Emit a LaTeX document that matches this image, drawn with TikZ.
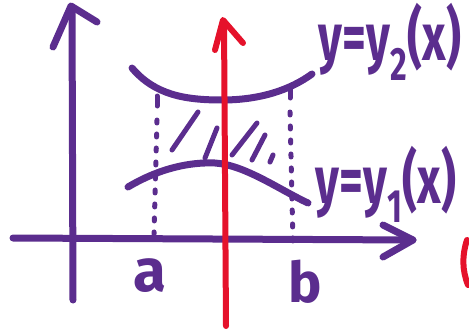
\documentclass[tikz,border=0pt]{standalone}
\usepackage{fontspec}
\setmainfont{Fira Sans}
\usepackage{xcolor}
\definecolor{plum}{HTML}{5B2D8E}
\definecolor{crimson}{HTML}{E5122B}

\begin{document}
\begin{tikzpicture}[x=1pt, y=-1pt, line cap=round, line join=round,
    pen/.style={draw=plum, line width=7pt},
    redpen/.style={draw=crimson, line width=6pt},
    guide/.style={draw=plum, line width=5pt, dash pattern=on 3pt off 11pt},
    hatch/.style={draw=plum, line width=5pt},
    lbl/.style={text=plum, inner sep=0pt, font=\bfseries\fontsize{46}{50}\selectfont}]
        \useasboundingbox (0,0) rectangle (469,332);

        \draw[pen] (73,300) -- (72,8);
        \draw[pen] (53,47) -- (71,6) -- (97,22);
        \draw[pen] (13,238) -- (413,240);
        \draw[pen] (383,225) -- (413,240) -- (383,257);

        \draw[pen] (132,68) .. controls (155,95) and (185,100) .. (222,100) .. controls (260,100) and (290,90) .. (312,74);
        \draw[pen] (128,187) .. controls (160,168) and (190,162) .. (215,163) .. controls (245,165) and (280,190) .. (308,203);

        \draw[pen, line width=5pt] (157,96) -- (157,106);
        \draw[guide] (157,120) -- (154,234);
        \draw[pen, line width=5pt] (290,88) -- (290,98);
        \draw[guide] (290,112) -- (293,244);

        \draw[hatch] (198,112) -- (172,150);
        \draw[hatch] (217,128) -- (205,158);
        \draw[hatch] (257,123) -- (232,155);
        \draw[hatch] (265,135) -- (252,160);
        \draw[hatch] (273,155) -- (270,162);

        \node[lbl] (ytwo) at (390,42) {\scalebox{1}[1.45]{y=y\textsubscript{2}(x)}};
        \node[lbl] (yone) at (386,184) {\scalebox{1}[1.45]{y=y\textsubscript{1}(x)}};
        \node[lbl, font=\bfseries\fontsize{60}{64}\selectfont] (a) at (150,276) {a};
        \node[lbl, font=\bfseries\fontsize{56}{60}\selectfont] (b) at (305,282) {b};

        \draw[redpen] (226,326) -- (224,22);
        \draw[redpen] (215,50) -- (223,20) -- (243,43);
        \draw[redpen] (467,240) .. controls (462,255) and (462,270) .. (468,285);
    \end{tikzpicture}
\end{document}
